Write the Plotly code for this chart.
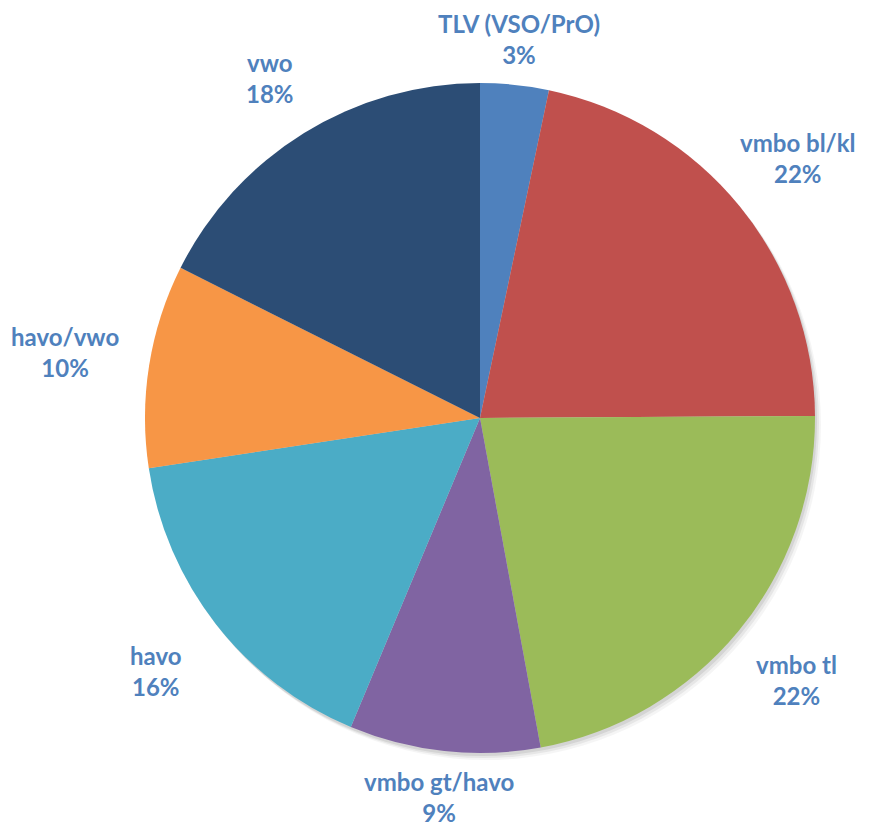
import math
import plotly.graph_objects as go

labels = ["TLV (VSO/PrO)", "vmbo bl/kl", "vmbo tl", "vmbo gt/havo", "havo", "havo/vwo", "vwo"]
values = [3.3, 21.6, 22.2, 9.2, 16.3, 9.8, 17.6]
colors = ["#4F81BD", "#C0504D", "#9BBB59", "#8064A2", "#4BACC6", "#F79646", "#2C4D75"]

W, H = 886, 830
OFF = 8  # page body margin
cx, cy, r = 480, 418, 335  # pie centre / radius in screen pixels


def px2paper(x, y):
    return (x - OFF) / W, 1 - (y - OFF) / H


x0, y1 = px2paper(cx - r, cy - r)
x1, y0 = px2paper(cx + r, cy + r)

fig = go.Figure(go.Pie(
    labels=labels, values=values, sort=False, direction="clockwise", rotation=0,
    marker=dict(colors=colors, line=dict(width=0)),
    textinfo="none", hoverinfo="label+percent", showlegend=False,
    domain=dict(x=[x0, x1], y=[y0, y1]),
))

# soft shadow behind the pie
for dx, dy, op in [(6, 7, 0.04), (4, 5, 0.06), (2, 3, 0.08)]:
    a0, b1 = px2paper(cx - r + dx, cy - r + dy)
    a1, b0 = px2paper(cx + r + dx, cy + r + dy)
    fig.add_shape(type="circle", xref="paper", yref="paper", x0=a0, x1=a1, y0=b0, y1=b1,
                  fillcolor=f"rgba(0,0,0,{op})", line=dict(width=0), layer="below")

total = sum(values)
cum = 0.0
for lab, v in zip(labels, values):
    mid = (cum + v / 2) / total * 2 * math.pi
    cum += v
    s, c = math.sin(mid), math.cos(mid)
    d = r + 41 + 45 * abs(s)
    ax, ay = px2paper(cx + d * s, cy - d * c)
    pct = round(v / total * 100)
    fig.add_annotation(
        x=ax, y=ay, xref="paper", yref="paper",
        text=f"<b>{lab}<br>{pct}%</b>", showarrow=False,
        xanchor="center", yanchor="middle", align="center",
        font=dict(family="Lato", size=24, color="#4F81BD"),
    )

fig.update_layout(
    width=W, height=H, margin=dict(l=0, r=0, t=0, b=0),
    paper_bgcolor="white", plot_bgcolor="white",
)
fig.write_html("out.html")
